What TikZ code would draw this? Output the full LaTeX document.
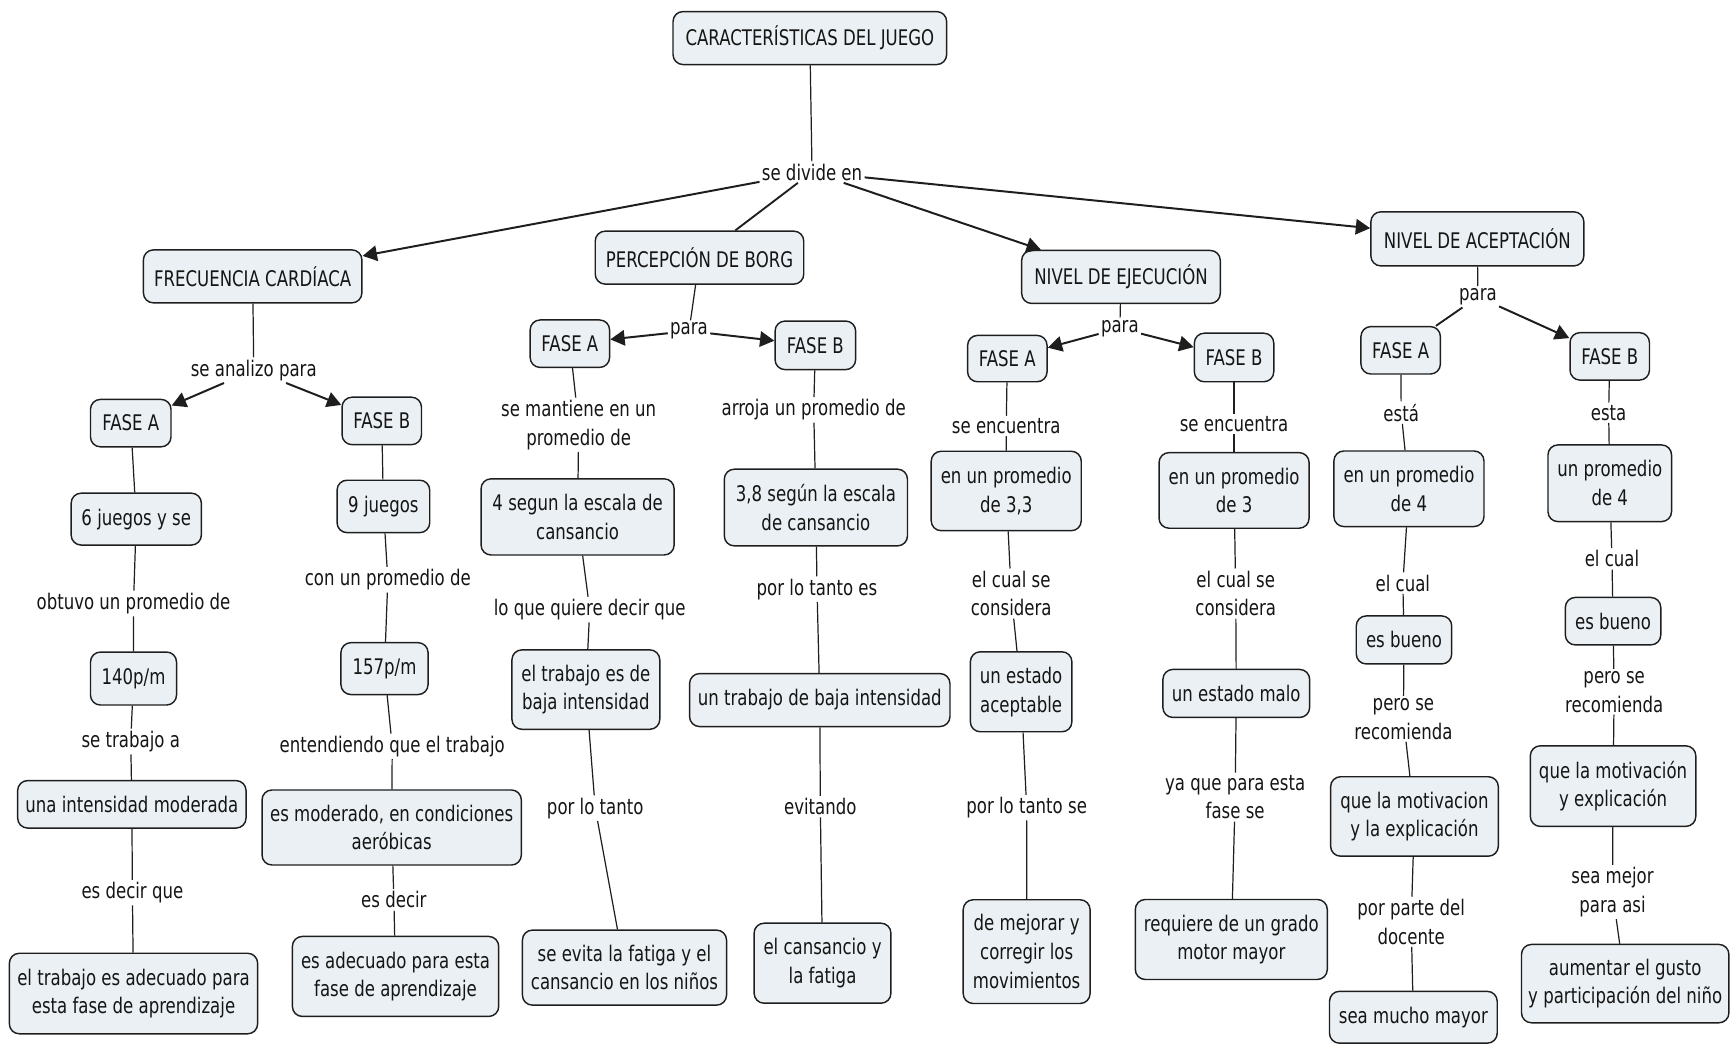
\documentclass[tikz,border=0pt]{standalone}
\usepackage{fontspec}
\setmainfont{DejaVu Sans}[FakeStretch=0.77]
\usetikzlibrary{arrows.meta}
\definecolor{boxfill}{HTML}{EAF0F3}
\definecolor{boxline}{HTML}{1E1E1E}
\definecolor{txt}{HTML}{151515}
\tikzset{
  box/.style={draw=boxline, fill=boxfill, rounded corners=9pt, line width=1.3pt, align=center, inner sep=1pt, font=\fontsize{19.5}{26}\selectfont, text=txt},
  lbl/.style={align=center, inner sep=2pt, font=\fontsize{19.5}{26}\selectfont, text=txt},
  conn/.style={draw=boxline, line width=1.1pt},
  hconn/.style={draw=boxline, line width=1.7pt},
  arr/.style={draw=boxline, line width=1.8pt, -{Triangle[length=13pt,width=14pt]}}
}
\newcommand{\bx}[6]{\node[box,minimum width=#4pt,minimum height=#5pt] (#1) at (#2,#3) {#6};}
\newcommand{\lb}[4]{\node[lbl] (#1) at (#2,#3) {#4};}
\begin{document}
\begin{tikzpicture}[x=1pt,y=-1pt]
\useasboundingbox (0,0) rectangle (1568,947);
% top level
\bx{cj}{734}{34.5}{248}{48}{CARACTERÍSTICAS DEL JUEGO}
\lb{sde}{736}{156}{se divide en}
\bx{fc}{229}{250.5}{198}{48}{FRECUENCIA CARDÍACA}
\bx{pb}{634}{233.5}{189}{48}{PERCEPCIÓN DE BORG}
\bx{ne}{1016}{251}{180}{48}{NIVEL DE EJECUCIÓN}
\bx{na}{1339}{216.5}{193}{49}{NIVEL DE ACEPTACIÓN}
% second level labels
\lb{sap}{230}{335.5}{se analizo para}
\lb{pbp}{624.5}{300}{para}
\lb{nep}{1015}{297.5}{para}
\lb{nap}{1339.5}{269}{para}
% phases
\bx{fcA}{118.5}{383.5}{73}{43}{FASE A}
\bx{fcB}{346}{381.5}{72}{43}{FASE B}
\bx{pbA}{516.5}{311.5}{72}{43}{FASE A}
\bx{pbB}{739}{313}{73}{44}{FASE B}
\bx{neA}{913}{325}{72}{42}{FASE A}
\bx{neB}{1118.5}{324}{72}{44}{FASE B}
\bx{naA}{1269.5}{317.5}{72}{43}{FASE A}
\bx{naB}{1459}{323}{72}{43}{FASE B}
% FC A column
\bx{a1}{123.5}{470.5}{118}{47}{6 juegos y se}
\lb{la1}{121}{547}{obtuvo un promedio de}
\bx{a2}{121}{615}{78}{48}{140p/m}
\lb{la2}{118.5}{672}{se trabajo a}
\bx{a3}{119.5}{729}{207}{43}{una intensidad moderada}
\lb{la3}{120}{809}{es decir que}
\bx{a4}{121}{900.5}{225}{73}{el trabajo es adecuado para\\esta fase de aprendizaje}
% FC B column
\bx{b1}{347.5}{459}{84}{47.5}{9 juegos}
\lb{lb1}{351.5}{525.5}{con un promedio de}
\bx{b2}{348.5}{606}{79}{47}{157p/m}
\lb{lb2}{355.5}{676.5}{entendiendo que el trabajo}
\bx{b3}{355}{750}{235}{68}{es moderado, en condiciones\\aeróbicas}
\lb{lb3}{357}{815.5}{es decir}
\bx{b4}{358.5}{885}{187}{72.5}{es adecuado para esta\\fase de aprendizaje}
% PB A column
\lb{lc1}{524.5}{385}{se mantiene en un\\promedio de}
\bx{c1}{523.5}{468.5}{175}{69}{4 segun la escala de\\cansancio}
\lb{lc2}{534.5}{552.5}{lo que quiere decir que}
\bx{c2}{531}{625}{134}{72}{el trabajo es de\\baja intensidad}
\lb{lc3}{539.5}{732.5}{por lo tanto}
\bx{c3}{566}{877}{185}{68}{se evita la fatiga y el\\cansancio en los niños}
% PB B column
\lb{ld1}{737.5}{371.5}{arroja un promedio de}
\bx{d1}{739.5}{460}{166}{69.5}{3,8 según la escala\\de cansancio}
\lb{ld2}{740.5}{534}{por lo tanto es}
\bx{d2}{743}{634.5}{236}{48}{un trabajo de baja intensidad}
\lb{ld3}{743.5}{731}{evitando}
\bx{d3}{745.5}{873}{124}{72.5}{el cansancio y\\la fatiga}
% NE A column
\lb{le1}{912}{386}{se encuentra}
\bx{e1}{912}{445}{136}{72}{en un promedio\\de 3,3}
\lb{le2}{916.5}{538}{el cual se\\considera}
\bx{e2}{925.5}{627}{92}{72.5}{un estado\\aceptable}
\lb{le3}{930.5}{732}{por lo tanto se}
\bx{e3}{930.5}{862.5}{115}{94}{de mejorar y\\corregir los\\movimientos}
% NE B column
\lb{lf1}{1118.5}{384}{se encuentra}
\bx{f1}{1118.5}{444.5}{136}{68.5}{en un promedio\\de 3}
\lb{lf2}{1120}{538}{el cual se\\considera}
\bx{f2}{1120.5}{628.5}{133}{43.5}{un estado malo}
\lb{lf3}{1119.5}{722.5}{ya que para esta\\fase se}
\bx{f3}{1116}{851.5}{174}{72.5}{requiere de un grado\\motor mayor}
% NA A column
\lb{lg1}{1270}{374}{está}
\bx{g1}{1277}{443}{136}{68.5}{en un promedio\\de 4}
\lb{lg2}{1271.5}{528.5}{el cual}
\bx{g2}{1272.5}{580}{86.5}{43.5}{es bueno}
\lb{lg3}{1272}{651.5}{pero se\\recomienda}
\bx{g3}{1282}{740}{152}{72}{que la motivacion\\y la explicación}
\lb{lg4}{1279}{835.5}{por parte del\\docente}
\bx{g4}{1281}{922}{152}{47}{sea mucho mayor}
% NA B column
\lb{lh1}{1458}{374}{esta}
\bx{h1}{1459}{438}{112}{69.5}{un promedio\\de 4}
\lb{lh2}{1461}{506.5}{el cual}
\bx{h2}{1462}{563}{86.5}{43}{es bueno}
\lb{lh3}{1463}{627}{pero se\\recomienda}
\bx{h3}{1462}{712.5}{150}{73}{que la motivación\\y explicación}
\lb{lh4}{1461.5}{808.5}{sea mejor\\para asi}
\bx{h4}{1473}{891.5}{188}{71}{aumentar el gusto\\y participación del niño}
% top connectors
\draw[conn] (cj) -- (sde);
\draw[arr] (sde) -- (fc);
\draw[hconn] (sde) -- (pb);
\draw[arr] (sde) -- (ne);
\draw[arr] (sde) -- (na);
\draw[conn] (fc) -- (sap);
\draw[arr] (sap) -- (fcA);
\draw[arr] (sap) -- (fcB);
\draw[conn] (pb) -- (pbp);
\draw[arr] (pbp) -- (pbA);
\draw[arr] (pbp) -- (pbB);
\draw[conn] (ne) -- (nep);
\draw[arr] (nep) -- (neA);
\draw[arr] (nep) -- (neB);
\draw[conn] (na) -- (nap);
\draw[hconn] (nap) -- (naA);
\draw[arr] (nap) -- (naB);
% column connectors
\draw[conn] (fcA) -- (a1);
\draw[conn] (a1) -- (la1) -- (a2);
\draw[conn] (a2) -- (la2) -- (a3);
\draw[conn] (a3) -- (la3) -- (a4);
\draw[conn] (fcB) -- (b1);
\draw[conn] (b1) -- (lb1) -- (b2);
\draw[conn] (b2) -- (lb2) -- (b3);
\draw[conn] (b3) -- (lb3) -- (b4);
\draw[conn] (pbA) -- (lc1) -- (c1);
\draw[conn] (c1) -- (lc2) -- (c2);
\draw[conn] (c2) -- (lc3) -- (c3);
\draw[conn] (pbB) -- (ld1) -- (d1);
\draw[conn] (d1) -- (ld2) -- (d2);
\draw[conn] (d2) -- (ld3) -- (d3);
\draw[conn] (neA) -- (le1) -- (e1);
\draw[conn] (e1) -- (le2) -- (e2);
\draw[conn] (e2) -- (le3) -- (e3);
\draw[conn] (neB) -- (lf1) -- (f1);
\draw[conn] (f1) -- (lf2) -- (f2);
\draw[conn] (f2) -- (lf3) -- (f3);
\draw[conn] (naA) -- (lg1) -- (g1);
\draw[conn] (g1) -- (lg2) -- (g2);
\draw[conn] (g2) -- (lg3) -- (g3);
\draw[conn] (g3) -- (lg4) -- (g4);
\draw[conn] (naB) -- (lh1) -- (h1);
\draw[conn] (h1) -- (lh2) -- (h2);
\draw[conn] (h2) -- (lh3) -- (h3);
\draw[conn] (h3) -- (lh4) -- (h4);
\end{tikzpicture}
\end{document}
